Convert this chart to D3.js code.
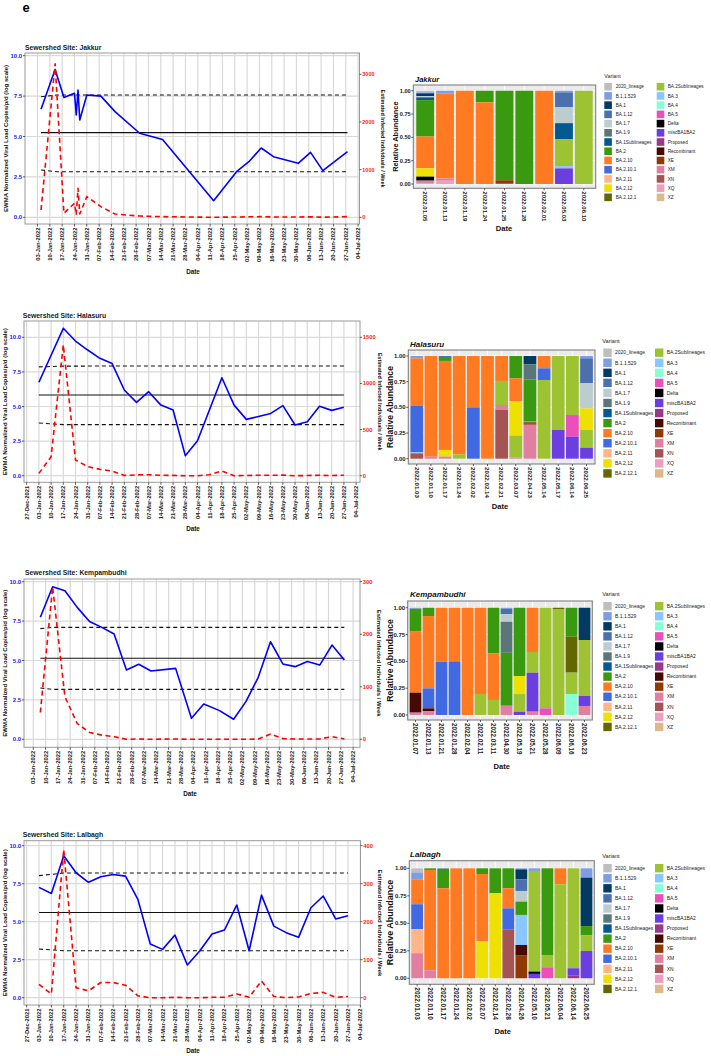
<!DOCTYPE html>
<html><head><meta charset="utf-8">
<script src="https://cdn.jsdelivr.net/npm/d3@7"></script>
<style>
body{margin:0;background:#fff;}
svg{display:block;font-family:"Liberation Sans",Arial,sans-serif;}
</style></head><body>
<svg id="c" width="711" height="1056"></svg>
<script>
// ---------- variants ----------
const variants = ["2020_lineage","B.1.1.529","BA.1","BA.1.12","BA.1.7","BA.1.9","BA.1Sublineages","BA.2","BA.2.10","BA.2.10.1","BA.2.11","BA.2.12","BA.2.12.1","BA.2Sublineages","BA.3","BA.4","BA.5","Delta","miscBA1BA2","Proposed","Recombinant","XE","XM","XN","XQ","XZ"];
const variantColors = ["#BEBEBE","#7E9DE3","#023A62","#4A70AE","#BDCCCF","#5A7678","#03588F","#3A9A0F","#FF7A20","#4169E1","#FFB58A","#EEE000","#646700","#9DC232","#8AC6FF","#86FFD6","#EB4FB9","#000000","#6B3FDF","#983A88","#470A02","#8F3A04","#E07FA0","#A65353","#EE9EBE","#DDB98A"];

// ---------- Jakkur ----------
const jakkurDates = ["2022-01-05","2022-01-13","2022-01-18","2022-01-24","2022-01-25","2022-01-26","2022-01-27","2022-01-31","2022-02-08","2022-02-16","2022-03-02","2022-03-15","2022-04-13","2022-04-26","2022-05-03","2022-05-10","2022-05-17","2022-05-31","2022-06-07","2022-06-14","2022-06-28"];
const jakkurViral = [6.68,9.15,7.42,7.67,6.33,7.88,6.02,7.57,7.5,6.54,5.2,4.82,1.03,2.82,3.44,4.29,3.75,3.34,4.02,2.89,4.06];
const jakkurInfected = [153,3220,85,295,51,610,68,434,224,68,27,14,0,7,10,14,7,7,10,3,14];
const jakkurLimitDates = ["2022-01-05","2022-01-14","2022-06-28"];
const jakkurMean = [5.24,5.24,5.24];
const jakkurUpper = [7.46,7.57,7.57];
const jakkurLower = [2.93,2.82,2.82];
const jakkurSamples = ["2022.01.05","2022.01.13","2022.01.19","2022.01.24","2022.01.25","2022.01.28","2022.02.01","2022.05.03","2022.06.10"];
const jakkurAbundance = [
 {"2020_lineage":0.018,"B.1.1.529":0.01,"BA.1":0.03,"BA.1.7":0.01,"BA.1.9":0.008,"BA.1Sublineages":0.025,"BA.2":0.39,"BA.2.10":0.34,"BA.2.12":0.09,"Delta":0.043,"XM":0.025,"XQ":0.011},
 {"B.1.1.529":0.03,"BA.2.10":0.91,"XM":0.025,"XQ":0.035},
 {"BA.2.10":1},
 {"BA.2":0.125,"BA.2.10":0.875},
 {"BA.2":0.96,"XE":0.03,"XN":0.01},
 {"BA.2":1},
 {"BA.2.10":1},
 {"B.1.1.529":0.018,"BA.1.12":0.16,"BA.1.7":0.17,"BA.1Sublineages":0.17,"BA.2Sublineages":0.29,"BA.3":0.025,"miscBA1BA2":0.167},
 {"BA.2Sublineages":1}
];

// ---------- Halasuru ----------
const halasuruDates = ["2022-01-03","2022-01-10","2022-01-17","2022-01-24","2022-01-31","2022-02-07","2022-02-14","2022-02-21","2022-02-28","2022-03-07","2022-03-14","2022-03-21","2022-03-28","2022-04-04","2022-04-11","2022-04-18","2022-04-25","2022-05-02","2022-05-09","2022-05-16","2022-05-23","2022-05-30","2022-06-06","2022-06-13","2022-06-20","2022-06-27"];
const halasuruViral = [6.75,8.7,10.65,9.73,9.08,8.48,8.1,6.19,5.3,6.07,5.1,4.75,1.45,2.53,4.8,7.08,5.1,4.07,4.28,4.5,5.06,3.66,3.9,5.01,4.72,4.94];
const halasuruInfected = [25,206,1418,170,98,69,51,3,8,11,5,3,0,0,11,51,0,2,5,5,6,0,2,5,2,5];
const halasuruLimitDates = ["2022-01-03","2022-01-17","2022-06-27"];
const halasuruMean = [5.83,5.83,5.83];
const halasuruUpper = [7.86,7.92,7.93];
const halasuruLower = [3.81,3.69,3.69];
const halasuruSamples = ["2022.01.03","2022.01.10","2022.01.17","2022.01.24","2022.02.02","2022.02.14","2022.02.21","2022.03.07","2022.04.23","2022.05.14","2022.05.17","2022.06.14","2022.06.25"];
const halasuruAbundance = [
 {"B.1.1.529":0.023,"BA.2.10":0.46,"BA.2.10.1":0.455,"BA.3":0.01,"XN":0.052},
 {"BA.2.10":0.98,"XM":0.02},
 {"BA.1.12":0.01,"BA.2":0.038,"BA.2.10":0.867,"BA.2.12":0.065,"XM":0.02},
 {"BA.2.10":0.958,"BA.2Sublineages":0.042},
 {"BA.2.10":0.5,"BA.2.10.1":0.5},
 {"BA.2.10":1},
 {"BA.2.10":0.243,"BA.2Sublineages":0.234,"XM":0.049,"XN":0.474},
 {"BA.2":0.218,"BA.2.10":0.22,"BA.2.12":0.338,"BA.2Sublineages":0.214,"XM":0.01},
 {"BA.1":0.081,"BA.1.9":0.146,"BA.2":0.406,"BA.2Sublineages":0.008,"Recombinant":0.01,"XE":0.012,"XM":0.327},
 {"BA.2.10":0.12,"BA.2.10.1":0.114,"BA.2Sublineages":0.766},
 {"BA.2Sublineages":0.72,"miscBA1BA2":0.28},
 {"BA.2Sublineages":0.575,"BA.5":0.211,"miscBA1BA2":0.214},
 {"B.1.1.529":0.023,"BA.1.12":0.24,"BA.1.7":0.247,"BA.2.12":0.211,"BA.2Sublineages":0.172,"miscBA1BA2":0.107}
];

// ---------- Kempambudhi ----------
const kempDates = ["2022-01-07","2022-01-14","2022-01-21","2022-01-28","2022-02-04","2022-02-11","2022-02-18","2022-02-25","2022-03-04","2022-03-11","2022-03-25","2022-04-03","2022-04-10","2022-04-19","2022-04-27","2022-05-04","2022-05-11","2022-05-18","2022-05-25","2022-06-01","2022-06-08","2022-06-15","2022-06-22","2022-06-29"];
const kempViral = [7.74,9.68,9.43,8.37,7.48,7.1,6.68,4.4,4.76,4.33,4.5,1.33,2.24,1.82,1.27,2.39,3.93,6.19,4.78,4.61,4.93,4.71,5.98,5.03];
const kempInfected = [51,290,81,30,13,8,5,0,0.6,0,0.6,0,0,0,0,0,0.6,10,1.2,0.6,0.6,0.6,5,0.6];
const kempLimitDates = ["2022-01-07","2022-01-14","2022-06-29"];
const kempMean = [5.14,5.14,5.14];
const kempUpper = [7.02,7.1,7.1];
const kempLower = [3.26,3.17,3.17];
const kempSamples = ["2022.01.07","2022.01.13","2022.01.21","2022.01.28","2022.02.04","2022.02.11","2022.03.11","2022.04.30","2022.05.19","2022.05.21","2022.05.28","2022.06.09","2022.06.16","2022.06.23"];
const kempAbundance = [
 {"B.1.1.529":0.01,"BA.2":0.208,"BA.2.10":0.574,"Recombinant":0.186,"XM":0.022},
 {"BA.2":0.078,"BA.2.10":0.674,"BA.2.10.1":0.186,"Recombinant":0.028,"XM":0.034},
 {"BA.2.10":0.503,"BA.2.10.1":0.497},
 {"BA.2.10":0.5,"BA.2.10.1":0.5},
 {"BA.2.10":1},
 {"BA.2.10":0.804,"BA.2Sublineages":0.196},
 {"BA.2":0.425,"BA.2.10":0.435,"BA.2Sublineages":0.14},
 {"B.1.1.529":0.01,"BA.1.12":0.05,"BA.1.7":0.071,"BA.1.9":0.289,"BA.2":0.494,"XM":0.086},
 {"BA.2":0.637,"BA.2.12":0.168,"BA.2Sublineages":0.165,"miscBA1BA2":0.03},
 {"BA.2.10":0.413,"BA.2Sublineages":0.193,"miscBA1BA2":0.363,"XM":0.031},
 {"BA.2Sublineages":0.938,"BA.5":0.062},
 {"BA.2.12.1":0.012,"BA.2Sublineages":0.988},
 {"BA.2":0.27,"BA.2.12.1":0.335,"BA.2Sublineages":0.199,"BA.4":0.196},
 {"BA.1":0.301,"BA.2Sublineages":0.522,"miscBA1BA2":0.093,"XM":0.084}
];

// ---------- Lalbagh ----------
const lalbaghDates = ["2022-01-03","2022-01-10","2022-01-17","2022-01-24","2022-01-31","2022-02-07","2022-02-14","2022-02-21","2022-02-28","2022-03-07","2022-03-14","2022-03-21","2022-03-28","2022-04-04","2022-04-11","2022-04-18","2022-04-25","2022-05-02","2022-05-09","2022-05-16","2022-05-23","2022-05-30","2022-06-06","2022-06-13","2022-06-20","2022-06-27"];
const lalbaghViral = [7.26,6.86,9.34,8.22,7.59,7.96,8.11,8.0,6.47,3.53,3.18,4.12,2.15,3.07,4.19,4.45,6.1,3.09,6.75,4.71,4.28,3.97,5.92,6.69,5.18,5.39];
const lalbaghInfected = [35,10,390,26,18,40,40,33,5,0,0,1,0,0,1,1,10,1,44,3,0,2,11,14,1,3];
const lalbaghLimitDates = ["2022-01-03","2022-01-17","2022-06-27"];
const lalbaghMean = [5.61,5.61,5.61];
const lalbaghUpper = [8.03,8.2,8.2];
const lalbaghLower = [3.2,3.09,3.09];
const lalbaghSamples = ["2022.01.03","2022.01.10","2022.01.17","2022.01.24","2022.02.02","2022.02.07","2022.02.14","2022.02.28","2022.04.26","2022.05.10","2022.05.21","2022.06.04","2022.06.14","2022.06.25"];
const lalbaghAbundance = [
 {"2020_lineage":0.039,"B.1.1.529":0.061,"BA.2.10":0.227,"BA.2.10.1":0.227,"BA.2.11":0.218,"XM":0.228},
 {"BA.2":0.015,"BA.2.10":0.912,"XM":0.073},
 {"BA.1.12":0.005,"BA.2":0.177,"BA.2.10":0.818},
 {"BA.2.10":1},
 {"BA.2.10":1},
 {"BA.2":0.052,"BA.2.10":0.609,"BA.2.12":0.339},
 {"BA.2":0.227,"BA.2.12":0.773},
 {"BA.2":0.182,"BA.2.10":0.182,"BA.2.10.1":0.191,"XN":0.445},
 {"B.1.1.529":0.01,"BA.1":0.09,"BA.1.12":0.106,"BA.1.7":0.097,"BA.2":0.121,"BA.3":0.273,"Recombinant":0.097,"XE":0.206},
 {"B.1.1.529":0.024,"BA.2Sublineages":0.915,"Delta":0.021,"miscBA1BA2":0.04},
 {"BA.2":0.788,"BA.2Sublineages":0.112,"BA.5":0.1},
 {"BA.2.10":0.145,"BA.2Sublineages":0.855},
 {"BA.2Sublineages":0.909,"miscBA1BA2":0.064,"Proposed":0.027},
 {"B.1.1.529":0.085,"BA.1":0.44,"BA.2":0.085,"BA.2Sublineages":0.142,"miscBA1BA2":0.248}
];

const leftTicks = [0,2.5,5,7.5,10];
const svg = d3.select("#c");
const D = s => new Date(s + "T00:00:00Z");
const color = d3.scaleOrdinal().domain(variants).range(variantColors);

svg.append("text").attr("x",22.5).attr("y",12).attr("font-size",13).attr("font-weight","bold").text("e");

function lineChart(c){
  const g = svg.append("g");
  const x = d3.scaleUtc().domain([D("2022-01-03"),D("2022-07-04")]).range([c.x03, c.x03 + 26*c.week]);
  const y = d3.scaleLinear().domain([0,10]).range([c.y0, c.y10]);
  const y2 = d3.scaleLinear().domain([0,10*c.factor]).range([c.y0, c.y10]);
  const ticks = d3.utcMonday.range(D(c.tickStart), D("2022-07-05"));
  const fmt = d3.utcFormat("%d-%b-%Y");
  g.append("text").attr("x",c.titleX).attr("y",c.titleY).attr("dy","0.35em")
    .attr("font-size",6.8).attr("font-weight","bold").attr("fill","#1a1a1a").text(c.title);
  g.append("rect").attr("x",c.left).attr("y",c.top).attr("width",c.right-c.left).attr("height",c.bottom-c.top).attr("fill","#fff");
  g.selectAll(".vg").data(ticks).join("line")
    .attr("x1",d=>x(d)).attr("x2",d=>x(d)).attr("y1",c.top).attr("y2",c.bottom)
    .attr("stroke","#D9D9D9").attr("stroke-width",1.2);
  g.selectAll(".hg").data(leftTicks).join("line")
    .attr("x1",c.left).attr("x2",c.right).attr("y1",d=>y(d)).attr("y2",d=>y(d))
    .attr("stroke","#D9D9D9").attr("stroke-width",1.2);
  const ld = c.limitDates.map(D);
  const ref = d3.line().x((d,i)=>x(ld[i])).y(d=>y(d));
  g.append("path").attr("d",ref(c.upper)).attr("fill","none").attr("stroke","#111").attr("stroke-width",1.1).attr("stroke-dasharray","4,3");
  g.append("path").attr("d",ref(c.lower)).attr("fill","none").attr("stroke","#111").attr("stroke-width",1.1).attr("stroke-dasharray","4,3");
  g.append("path").attr("d",ref(c.mean)).attr("fill","none").attr("stroke","#111").attr("stroke-width",1.1);
  const dd = c.dates.map(D);
  g.append("path").attr("d",d3.line().x((d,i)=>x(dd[i])).y(d=>y(d))(c.viral))
    .attr("fill","none").attr("stroke","#0000FF").attr("stroke-width",1.6).attr("stroke-linejoin","round");
  g.append("path").attr("d",d3.line().x((d,i)=>x(dd[i])).y(d=>y2(d))(c.infected))
    .attr("fill","none").attr("stroke","#FF0000").attr("stroke-width",1.6).attr("stroke-dasharray","5,3.5").attr("stroke-linejoin","round");
  g.append("rect").attr("x",c.left).attr("y",c.top).attr("width",c.right-c.left).attr("height",c.bottom-c.top)
    .attr("fill","none").attr("stroke","#9A9A9A").attr("stroke-width",1);
  g.selectAll(".lt").data(leftTicks).join("line").attr("x1",c.left-2).attr("x2",c.left).attr("y1",d=>y(d)).attr("y2",d=>y(d)).attr("stroke","#333").attr("stroke-width",0.8);
  g.selectAll(".ll").data(leftTicks).join("text").attr("x",c.left-2.8).attr("y",d=>y(d)).attr("dy","0.35em")
    .attr("text-anchor","end").attr("font-size",6).attr("font-weight","bold").attr("fill","#2020FF").text(d=>d3.format(".1f")(d));
  g.selectAll(".rt").data(c.y2Ticks).join("line").attr("x1",c.right).attr("x2",c.right+2).attr("y1",d=>y2(d)).attr("y2",d=>y2(d)).attr("stroke","#333").attr("stroke-width",0.8);
  g.selectAll(".rl").data(c.y2Ticks).join("text").attr("x",c.right+2.8).attr("y",d=>y2(d)).attr("dy","0.35em")
    .attr("font-size",c.y2Size).attr("font-weight","bold").attr("fill","#FF2020").text(d=>d);
  g.selectAll(".bt").data(ticks).join("line").attr("x1",d=>x(d)).attr("x2",d=>x(d)).attr("y1",c.bottom).attr("y2",c.bottom+2.5).attr("stroke","#333").attr("stroke-width",0.8);
  g.selectAll(".bl").data(ticks).join("text")
    .attr("transform",d=>`translate(${x(d)},${c.bottom+3.5}) rotate(-90)`)
    .attr("dy","0.35em").attr("text-anchor","end").attr("font-size",5.8).attr("font-weight","bold").attr("fill","#222").text(fmt);
  g.append("text").attr("transform",`translate(${c.yTitleX},${(c.top+c.bottom)/2}) rotate(-90)`)
    .attr("dy","0.35em").attr("text-anchor","middle").attr("font-size",6).attr("font-weight","bold").attr("fill","#111")
    .text("EWMA Normalized Viral Load Copies/p/d (log scale)");
  g.append("text").attr("transform",`translate(${c.y2TitleX},${(c.top+c.bottom)/2}) rotate(90)`)
    .attr("dy","0.35em").attr("text-anchor","middle").attr("font-size",c.y2TitleSize).attr("font-weight","bold").attr("fill","#111")
    .text("Estimated Infected Individuals / Week");
  g.append("text").attr("x",c.dateX).attr("y",c.dateY).attr("text-anchor","middle").attr("font-size",6.3).attr("font-weight","bold").attr("fill","#111").text("Date");
}

function barChart(c){
  const g = svg.append("g");
  const x = d3.scalePoint().domain(c.samples).range([c.left,c.right]).padding(0.6);
  const bw = x.step()*0.9;
  const y = d3.scaleLinear().domain([0,1]).range([c.y0,c.y1]);
  g.append("text").attr("x",c.titleX).attr("y",c.titleY).attr("dy","0.35em").attr("font-size",c.titleSize)
    .attr("font-weight","bold").attr("font-style","italic").attr("fill","#111").text(c.name);
  g.append("rect").attr("x",c.left).attr("y",c.top).attr("width",c.right-c.left).attr("height",c.bottom-c.top).attr("fill","#EBEBEB");
  const minor = [0.125,0.375,0.625,0.875], major=[0,0.25,0.5,0.75,1];
  g.selectAll(".mi").data(minor).join("line").attr("x1",c.left).attr("x2",c.right).attr("y1",d=>y(d)).attr("y2",d=>y(d)).attr("stroke","#fff").attr("stroke-width",0.4);
  g.selectAll(".ma").data(major).join("line").attr("x1",c.left).attr("x2",c.right).attr("y1",d=>y(d)).attr("y2",d=>y(d)).attr("stroke","#fff").attr("stroke-width",0.9);
  g.selectAll(".vx").data(c.samples).join("line").attr("x1",d=>x(d)).attr("x2",d=>x(d)).attr("y1",c.top).attr("y2",c.bottom).attr("stroke","#fff").attr("stroke-width",0.9);
  const stack = d3.stack().keys(variants).value((d,k)=>d[k]||0).order(d3.stackOrderReverse).offset(d3.stackOffsetExpand);
  const series = stack(c.abundance);
  series.forEach(s=>{
    g.selectAll(null).data(s.map((d,i)=>({d,i})).filter(o=>o.d[1]-o.d[0]>0)).join("rect")
      .attr("x",o=>x(c.samples[o.i])-bw/2).attr("width",bw)
      .attr("y",o=>y(o.d[1])).attr("height",o=>y(o.d[0])-y(o.d[1]))
      .attr("fill",color(s.key));
  });
  g.append("rect").attr("x",c.left).attr("y",c.top).attr("width",c.right-c.left).attr("height",c.bottom-c.top)
    .attr("fill","none").attr("stroke","#808080").attr("stroke-width",1.1);
  g.selectAll(".yt").data(major).join("line").attr("x1",c.left-2).attr("x2",c.left).attr("y1",d=>y(d)).attr("y2",d=>y(d)).attr("stroke","#333").attr("stroke-width",0.8);
  g.selectAll(".yl").data(major).join("text").attr("x",c.left-2.6).attr("y",d=>y(d)).attr("dy","0.35em").attr("text-anchor","end")
    .attr("font-size",c.tickSize).attr("font-weight","bold").attr("fill","#222").text(d=>d3.format(".2f")(d));
  g.selectAll(".xt").data(c.samples).join("line").attr("x1",d=>x(d)).attr("x2",d=>x(d)).attr("y1",c.bottom).attr("y2",c.bottom+2).attr("stroke","#333").attr("stroke-width",0.8);
  g.selectAll(".xl").data(c.samples).join("text").attr("transform",d=>`translate(${x(d)},${c.bottom+3}) rotate(90)`)
    .attr("dy","0.35em").attr("font-size",c.labelSize).attr("font-weight","bold").attr("fill","#222").text(d=>d);
  g.append("text").attr("transform",`translate(${c.yTitleX},${(c.top+c.bottom)/2}) rotate(-90)`).attr("dy","0.35em")
    .attr("text-anchor","middle").attr("font-size",c.yTitleSize).attr("font-weight","bold").attr("fill","#111").text("Relative Abundance");
  g.append("text").attr("x",c.dateX).attr("y",c.dateY).attr("dy","0.35em").attr("text-anchor","middle").attr("font-size",7.6).attr("font-weight","bold").attr("fill","#111").text("Date");
  const L = c.legend;
  g.append("text").attr("x",L.titleX).attr("y",L.titleY).attr("dy","0.35em").attr("font-size",L.font+0.6).attr("fill","#222").text("Variant");
  const items = g.selectAll(".lg").data(variants).join("g")
    .attr("transform",(d,i)=>`translate(${i<13?L.c1k:L.c2k},${L.row0 + (i%13)*L.step})`);
  items.append("rect").attr("x",0).attr("y",-L.key/2).attr("width",L.key).attr("height",L.key).attr("fill",d=>color(d));
  items.append("text").attr("x",(d,i)=> (i<13?L.c1t-L.c1k:L.c2t-L.c2k)).attr("y",0).attr("dy","0.35em")
    .attr("font-size",L.font).attr("fill","#222").text(d=>d);
}

lineChart({title:"Sewershed Site: Jakkur",titleX:25,titleY:48,left:25,right:359.5,top:53,bottom:224,y0:217.3,y10:55.7,x03:37.5,week:12.33,tickStart:"2022-01-03",factor:339,y2Ticks:[0,1000,2000,3000],y2Size:5.5,yTitleX:5.5,y2TitleX:383,y2TitleSize:5.5,dateX:193,dateY:274,
  dates:jakkurDates,viral:jakkurViral,infected:jakkurInfected,limitDates:jakkurLimitDates,mean:jakkurMean,upper:jakkurUpper,lower:jakkurLower});
lineChart({title:"Sewershed Site: Halasuru",titleX:22.7,titleY:315.7,left:24,right:360,top:321,bottom:482.3,y0:475.7,y10:337.3,x03:38.9,week:12.2,tickStart:"2021-12-27",factor:150,y2Ticks:[0,500,1000,1500],y2Size:5.8,yTitleX:4.5,y2TitleX:380,y2TitleSize:5.5,dateX:193,dateY:531,
  dates:halasuruDates,viral:halasuruViral,infected:halasuruInfected,limitDates:halasuruLimitDates,mean:halasuruMean,upper:halasuruUpper,lower:halasuruLower});
lineChart({title:"Sewershed Site: Kempambudhi",titleX:25,titleY:572.7,left:24,right:360,top:579,bottom:747.3,y0:739.3,y10:581.7,x03:33.3,week:12.3,tickStart:"2022-01-03",factor:30,y2Ticks:[0,100,200,300],y2Size:5.8,yTitleX:4.5,y2TitleX:379.5,y2TitleSize:6,dateX:190,dateY:796,
  dates:kempDates,viral:kempViral,infected:kempInfected,limitDates:kempLimitDates,mean:kempMean,upper:kempUpper,lower:kempLower});
lineChart({title:"Sewershed Site: Lalbagh",titleX:22.7,titleY:834.3,left:24,right:360.5,top:840.7,bottom:1005,y0:997.7,y10:845.7,x03:39,week:12.36,tickStart:"2021-12-27",factor:40,y2Ticks:[0,100,200,300,400],y2Size:5.8,yTitleX:4.5,y2TitleX:380,y2TitleSize:6,dateX:193,dateY:1053,
  dates:lalbaghDates,viral:lalbaghViral,infected:lalbaghInfected,limitDates:lalbaghLimitDates,mean:lalbaghMean,upper:lalbaghUpper,lower:lalbaghLower});

const legJ = {titleX:604.3,titleY:76,row0:86.7,step:9.22,key:7.6,c1k:604.3,c1t:615.7,c2k:656.7,c2t:667.7,font:4.7};
const legH = {titleX:602.3,titleY:341,row0:352.7,step:10.06,key:8.4,c1k:603.3,c1t:615,c2k:655,c2t:666.7,font:5};
barChart({name:"Jakkur",titleX:415,titleY:79.3,titleSize:7.5,left:413.3,right:595.7,top:85,bottom:188.3,y1:90.7,y0:184,labelSize:6,tickSize:5.6,yTitleX:395,yTitleSize:7.4,dateX:504,dateY:228.3,
  samples:jakkurSamples,abundance:jakkurAbundance,legend:legJ});
barChart({name:"Halasuru",titleX:410,titleY:344,titleSize:8,left:408.3,right:595,top:350,bottom:464,y1:356,y0:458.7,labelSize:6.2,tickSize:6,yTitleX:389.5,yTitleSize:8.6,dateX:500,dateY:506.7,
  samples:halasuruSamples,abundance:halasuruAbundance,legend:legH});
barChart({name:"Kempambudhi",titleX:410,titleY:594,titleSize:8,left:407.7,right:592.3,top:601,bottom:720,y1:607.7,y0:715,labelSize:6.3,tickSize:6,yTitleX:389.5,yTitleSize:8.7,dateX:501.7,dateY:766.7,
  samples:kempSamples,abundance:kempAbundance,legend:Object.assign({},legH,{titleY:594.5,row0:606.2})});
barChart({name:"Lalbagh",titleX:410,titleY:854,titleSize:8,left:409.3,right:594.3,top:860.7,bottom:984.3,y1:868.3,y0:978.3,labelSize:6.5,tickSize:6,yTitleX:389.5,yTitleSize:9,dateX:502.7,dateY:1031.7,
  samples:lalbaghSamples,abundance:lalbaghAbundance,legend:Object.assign({},legH,{titleY:856.5,row0:868.2})});
</script>
</body></html>
